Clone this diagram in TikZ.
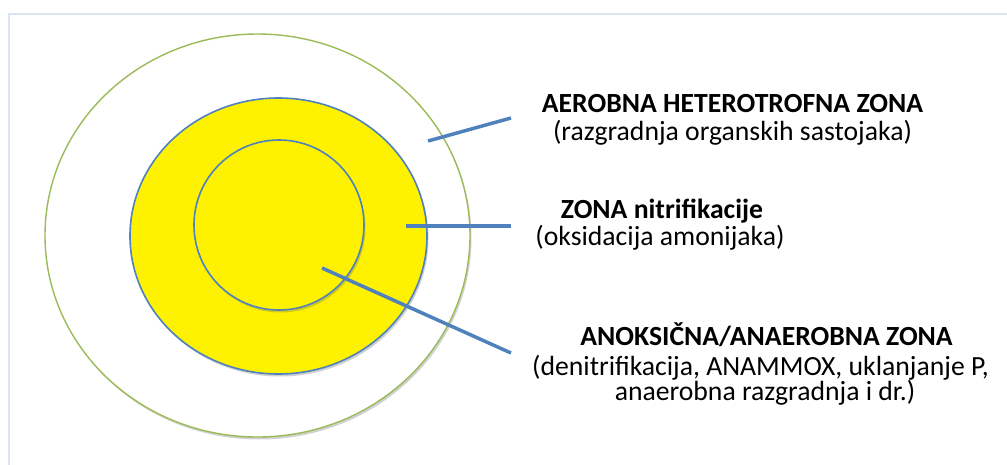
\documentclass[tikz,border=0pt]{standalone}
\usepackage{fontspec}
\setmainfont{Carlito}
\usetikzlibrary{shapes.geometric,shadows}
\definecolor{zgreen}{HTML}{9BBB59}
\definecolor{zblue}{HTML}{4F81BD}
\definecolor{zframe}{HTML}{DBE5F1}
\begin{document}
\begin{tikzpicture}[x=1pt,y=-1pt,
  zone/.style={ellipse, inner sep=0pt, draw=zblue, line width=1.6pt, fill=yellow,
     drop shadow={shadow xshift=1.5pt, shadow yshift=-2.5pt, opacity=0.3, fill=black!60}},
  leader/.style={draw=zblue, line width=3.5pt},
  lbl/.style={inner sep=0pt, font=\fontsize{27.7}{32}\selectfont},
  lblb/.style={lbl, font=\fontsize{27.7}{32}\selectfont\bfseries}]
\useasboundingbox (0,0) rectangle (1007,464);
\clip (0,0) rectangle (1007,464);
\draw[zframe, line width=2pt] (1012,14) -- (9,14) -- (9,470);
\node[zone, draw=zgreen, line width=1.4pt, fill=white, minimum width=425pt, minimum height=403pt] (outer) at (257.5,235.5) {};
\node[zone, minimum width=297pt, minimum height=276pt] (middle) at (278.5,236) {};
\node[zone, minimum width=170pt, minimum height=170pt] (inner) at (279,225) {};
\coordinate (a1) at (428,141);
\coordinate (a2) at (511,118);
\coordinate (b1) at (406,226);
\coordinate (b2) at (511,226);
\coordinate (c1) at (322,268);
\coordinate (c2) at (511,353);
\draw[leader] (a1) -- (a2);
\draw[leader] (b1) -- (b2);
\draw[leader] (c1) -- (c2);
\node[lblb, anchor=base] (t1) at (732.5,112) {AEROBNA HETEROTROFNA ZONA};
\node[lbl, anchor=base] (t2) at (732.5,140) {(razgradnja organskih sastojaka)};
\node[lblb, anchor=base] (t3) at (662,218) {ZONA nitrifikacije};
\node[lbl, anchor=base] (t4) at (660,245) {(oksidacija amonijaka)};
\node[lblb, anchor=base] (t5) at (766.5,345) {ANOKSIČNA/ANAEROBNA ZONA};
\node[lbl, anchor=base west] (t6) at (532,375) {(denitrifikacija, ANAMMOX, uklanjanje P,};
\node[lbl, anchor=base] (t7) at (765,400) {anaerobna razgradnja i dr.)};
\end{tikzpicture}
\end{document}
